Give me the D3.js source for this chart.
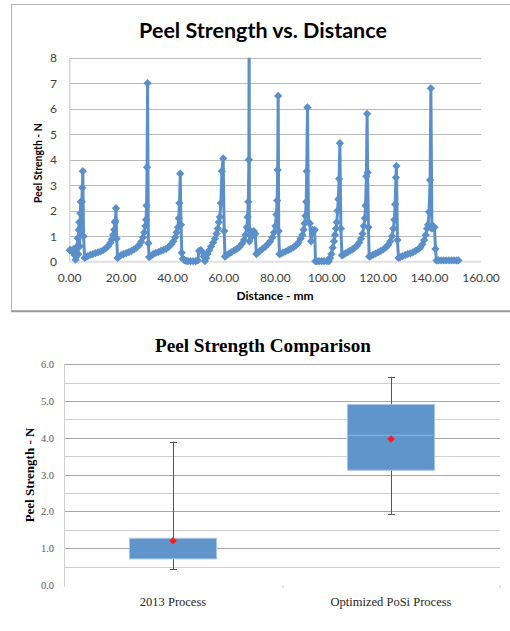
<!DOCTYPE html>
<html><head><meta charset="utf-8">
<script src="https://cdn.jsdelivr.net/npm/d3@7"></script>
<style>html,body{margin:0;padding:0;background:#fff;}svg{display:block;}</style>
</head><body>
<svg id="c" width="510" height="631"></svg>
<script>
// ---- Top chart data: Peel Strength vs. Distance ----
const distance = [
 0,0.4,0.8,1.2,1.6,2.0,2.3,2.6,2.9,3.1,3.3,3.5,3.7,3.9,4.1,4.3,4.5,4.7,4.9,5.1,5.4,5.8,
 6.2,7,8,9,10,11,12,13,14,15,15.8,16.4,16.9,17.3,17.6,17.8,18.0,18.3,18.6,
 19.2,20,21,22,23,24,25,26,27,27.8,28.5,29,29.4,29.7,29.9,30.1,30.3,30.6,30.9,
 31.5,32.5,33.5,34.5,35.5,36.5,37.5,38.5,39.5,40.3,41,41.6,42.1,42.4,42.7,43.0,43.3,43.6,44.0,44.6,45.3,46,47,48,49,49.8,
 50.3,51,51.6,52.1,52.6,53.1,53.6,54.3,55,55.8,56.5,57.1,57.6,58,58.4,58.8,59.2,59.7,60.1,60.4,
 61,62,63,64,65,66,67,67.8,68.4,68.9,69.2,69.5,69.7,69.8,69.9,70.4,71,71.6,72.2,72.6,
 73.2,74,75,76,77,78,78.8,79.5,80,80.4,80.7,80.9,81.1,81.3,81.6,
 82.2,83,84,85,86,87,88,89,89.8,90.5,91,91.4,91.7,92.0,92.2,92.5,92.9,93.4,93.9,94.4,94.9,95.3,95.6,
 96.2,97,98,99,100,100.8,
 101.3,101.8,102.3,102.8,103.2,103.6,103.9,104.2,104.5,104.8,105.1,105.5,105.9,
 106.5,107.3,108.2,109.1,110,110.9,111.8,112.6,113.3,113.9,114.4,114.8,115.1,115.4,115.7,115.9,116.2,116.5,
 117.1,118,119,120,121,122,123,123.9,124.7,125.4,125.9,126.3,126.6,126.9,127.1,127.5,127.9,
 128.6,129.5,130.5,131.5,132.5,133.5,134.5,135.5,136.4,137.2,137.9,138.5,139,139.4,139.8,140.2,140.5,140.9,141.4,141.9,142.3,142.7,
 143.5,144.5,145.5,146.5,147.5,148.5,149.5,150.5,151.2
];
const strength = [
 0.45,0.45,0.42,0.38,0.5,0.25,0.08,0.2,0.6,0.92,0.3,1.25,1.55,0.6,1.9,2.35,1.2,2.35,2.9,3.55,1.0,0.15,
 0.18,0.22,0.27,0.3,0.34,0.37,0.4,0.45,0.52,0.62,0.74,0.88,1.05,1.25,1.55,1.6,2.1,0.9,0.15,
 0.2,0.26,0.3,0.34,0.38,0.42,0.48,0.55,0.65,0.78,0.95,1.15,1.4,1.65,2.2,3.7,7.0,0.72,0.18,
 0.22,0.3,0.35,0.38,0.42,0.46,0.5,0.58,0.68,0.8,0.95,1.15,1.35,1.7,2.3,3.45,1.45,0.35,0.12,0.06,0.03,0.02,0.02,0.02,0.02,0.05,
 0.42,0.45,0.38,0.2,0.02,0.15,0.3,0.45,0.6,0.75,0.9,1.1,1.3,1.55,1.75,2.3,3.55,4.05,1.2,0.2,
 0.25,0.32,0.38,0.44,0.5,0.58,0.7,0.85,1.05,1.35,1.75,2.35,4.0,9.5,0.8,1.2,1.0,1.2,1.1,0.3,
 0.35,0.42,0.5,0.58,0.68,0.8,0.95,1.15,1.4,1.85,2.4,3.6,6.5,1.2,0.3,
 0.32,0.36,0.4,0.45,0.5,0.56,0.64,0.75,0.9,1.05,1.25,1.5,1.8,2.35,3.55,6.05,1.55,1.5,0.8,1.25,1.2,1.25,0.02,
 0.02,0.02,0.02,0.02,0.02,0.02,
 0.15,0.3,0.55,0.8,1.05,1.3,1.55,2.0,2.45,3.25,4.65,1.3,0.25,
 0.28,0.33,0.38,0.43,0.48,0.55,0.63,0.75,0.9,1.1,1.4,1.7,2.2,3.35,5.8,3.5,1.35,0.2,
 0.22,0.27,0.32,0.37,0.42,0.48,0.56,0.66,0.8,1.0,1.3,1.65,2.25,3.3,3.75,0.85,0.15,
 0.18,0.22,0.26,0.3,0.33,0.37,0.42,0.48,0.56,0.68,0.85,1.05,1.3,1.45,1.95,3.2,6.8,1.3,1.4,1.35,0.5,0.05,
 0.05,0.05,0.05,0.05,0.05,0.05,0.05,0.05,0.05
];
const xTicks = [0,20,40,60,80,100,120,140,160];
const yTicks = [0,1,2,3,4,5,6,7,8];

// ---- Bottom chart data: Peel Strength Comparison ----
const categories = ["2013 Process", "Optimized PoSi Process"];
const whiskerMin = [0.43, 1.92];
const boxQ1 = [0.71, 3.12];
const boxMedian = [0.72, 4.07];
const boxQ3 = [1.27, 4.91];
const whiskerMax = [3.9, 5.66];
const meanValue = [1.2, 3.97];
const yTicks2 = [0,1,2,3,4,5,6];

const svg = d3.select("#c");
svg.append("rect").attr("width",510).attr("height",631).attr("fill","#fff");

// ================= TOP CHART =================
const gTop = svg.append("g");
gTop.append("rect").attr("x",11.5).attr("y",4.5).attr("width",520).attr("height",306)
  .attr("fill","#fff").attr("stroke","#b4b4b4").attr("stroke-width",1);
gTop.append("line").attr("x1",11).attr("x2",510).attr("y1",311.5).attr("y2",311.5).attr("stroke","#9a9a9a").attr("stroke-width",1.5);

const x1 = d3.scaleLinear().domain([0,160]).range([69.7,481]);
const y1 = d3.scaleLinear().domain([0,8]).range([261.7,57.7]);

gTop.append("g").selectAll("line").data(yTicks.filter(d=>d>0)).join("line")
  .attr("x1",x1(0)).attr("x2",x1(160)).attr("y1",d=>Math.round(y1(d))+0.5).attr("y2",d=>Math.round(y1(d))+0.5)
  .attr("stroke","#b9b9b9").attr("stroke-width",1);
gTop.append("line").attr("x1",x1(0)).attr("x2",x1(160)).attr("y1",y1(0)).attr("y2",y1(0)).attr("stroke","#e0e0e0").attr("stroke-width",2);
gTop.append("line").attr("x1",x1(0)).attr("x2",x1(0)).attr("y1",y1(0)).attr("y2",y1(8)).attr("stroke","#d6d6d6").attr("stroke-width",1.5);

const fTop = "Lato, 'Open Sans', sans-serif";
gTop.append("g").selectAll("text").data(yTicks).join("text")
  .attr("x",57).attr("y",d=>y1(d)+4.5).attr("text-anchor","end")
  .attr("font-family",fTop).attr("font-size",12).attr("fill","#404040").text(d=>d);
gTop.append("g").selectAll("text").data(xTicks).join("text")
  .attr("x",d=>x1(d)).attr("y",281.5).attr("text-anchor","middle")
  .attr("font-family",fTop).attr("font-size",12).attr("fill","#404040").text(d=>d3.format(".2f")(d));

gTop.append("text").attr("x",263).attr("y",38).attr("text-anchor","middle")
  .attr("font-family",fTop).attr("font-weight","bold").attr("font-size",21.5).attr("fill","#000")
  .text("Peel Strength vs. Distance");
gTop.append("text").attr("x",275).attr("y",299.5).attr("text-anchor","middle")
  .attr("font-family",fTop).attr("font-weight","bold").attr("font-size",12).attr("fill","#000")
  .text("Distance - mm");
gTop.append("text").attr("transform","translate(42,163) rotate(-90)").attr("text-anchor","middle")
  .attr("font-family",fTop).attr("font-weight","bold").attr("font-size",10.5).attr("fill","#000")
  .text("Peel Strength - N");

svg.append("defs").append("clipPath").attr("id","clipTop").append("rect")
  .attr("x",60).attr("y",y1(8)).attr("width",440).attr("height",y1(0)-y1(8)+12);
const pts = distance.map((d,i)=>[d,strength[i]]);
const series = gTop.append("g").attr("clip-path","url(#clipTop)");
const blue = "#5b8fca";
series.append("path").datum(pts)
  .attr("d",d3.line().x(d=>x1(d[0])).y(d=>y1(d[1])))
  .attr("fill","none").attr("stroke",blue).attr("stroke-width",3).attr("stroke-linejoin","round");
const diamond = d3.symbol().type(d3.symbolSquare).size(34);
series.append("g").selectAll("path").data(pts).join("path")
  .attr("d",diamond)
  .attr("transform",d=>`translate(${x1(d[0])},${y1(d[1])}) rotate(45)`)
  .attr("fill",blue);

// ================= BOTTOM CHART =================
const gBot = svg.append("g");
const x2 = d3.scaleBand().domain(categories).range([64,500]);
const y2 = d3.scaleLinear().domain([0,6]).range([585,364.3]);
const minor = d3.range(0.5,6,1);
gBot.append("g").selectAll("line").data(minor).join("line")
  .attr("x1",64).attr("x2",500).attr("y1",d=>Math.round(y2(d))+0.5).attr("y2",d=>Math.round(y2(d))+0.5)
  .attr("stroke","#cfcfcf").attr("stroke-width",1);
gBot.append("g").selectAll("line").data(yTicks2.filter(d=>d>0)).join("line")
  .attr("x1",64).attr("x2",500).attr("y1",d=>Math.round(y2(d))+0.5).attr("y2",d=>Math.round(y2(d))+0.5)
  .attr("stroke","#a6a6a6").attr("stroke-width",1);
gBot.append("line").attr("x1",64.5).attr("x2",64.5).attr("y1",y2(6)).attr("y2",y2(0)+2).attr("stroke","#d0d0d0");
gBot.append("g").selectAll("line").data([283,500]).join("line")
  .attr("x1",d=>d).attr("x2",d=>d).attr("y1",y2(0)).attr("y2",y2(0)+3).attr("stroke","#c8c8c8");

const fTimes = "'Liberation Serif', 'DejaVu Serif', serif";
gBot.append("g").selectAll("text").data(yTicks2).join("text")
  .attr("x",54).attr("y",d=>y2(d)+4).attr("text-anchor","end")
  .attr("font-family",fTimes).attr("font-size",10.5).attr("fill","#595959").text(d=>d3.format(".1f")(d));
gBot.append("g").selectAll("text").data(categories).join("text")
  .attr("x",d=>x2(d)+x2.bandwidth()/2).attr("y",606).attr("text-anchor","middle")
  .attr("font-family",fTimes).attr("font-size",12.5).attr("fill","#262626").text(d=>d);
gBot.append("text").attr("x",263).attr("y",351.5).attr("text-anchor","middle")
  .attr("font-family",fTimes).attr("font-weight","bold").attr("font-size",19.2).attr("fill","#000")
  .text("Peel Strength Comparison");
gBot.append("text").attr("transform","translate(34,475) rotate(-90)").attr("text-anchor","middle")
  .attr("font-family",fTimes).attr("font-weight","bold").attr("font-size",13).attr("fill","#000")
  .text("Peel Strength - N");

const boxW = x2.bandwidth()*0.4;
categories.forEach((c,i)=>{
  const cx = x2(c)+x2.bandwidth()/2;
  const g = gBot.append("g");
  g.append("line").attr("x1",cx+0.5).attr("x2",cx+0.5).attr("y1",y2(whiskerMin[i])).attr("y2",y2(whiskerMax[i]))
    .attr("stroke","#555").attr("stroke-width",1);
  [whiskerMin[i],whiskerMax[i]].forEach(v=>{
    g.append("line").attr("x1",cx-3).attr("x2",cx+4).attr("y1",Math.round(y2(v))+0.5).attr("y2",Math.round(y2(v))+0.5)
      .attr("stroke","#555").attr("stroke-width",1);
  });
  g.append("rect").attr("x",cx-boxW/2).attr("width",boxW)
    .attr("y",y2(boxQ3[i])).attr("height",y2(boxQ1[i])-y2(boxQ3[i]))
    .attr("fill","#5f95ca").attr("stroke","#a9c6e6").attr("stroke-width",1);
  g.append("line").attr("x1",cx-boxW/2).attr("x2",cx+boxW/2).attr("y1",y2(boxMedian[i])).attr("y2",y2(boxMedian[i]))
    .attr("stroke","#8fb5df").attr("stroke-width",1);
  g.append("path").attr("d",d3.symbol().type(d3.symbolSquare).size(28))
    .attr("transform",`translate(${cx},${y2(meanValue[i])}) rotate(45)`).attr("fill","#ff1a1a");
});
</script>
</body></html>
